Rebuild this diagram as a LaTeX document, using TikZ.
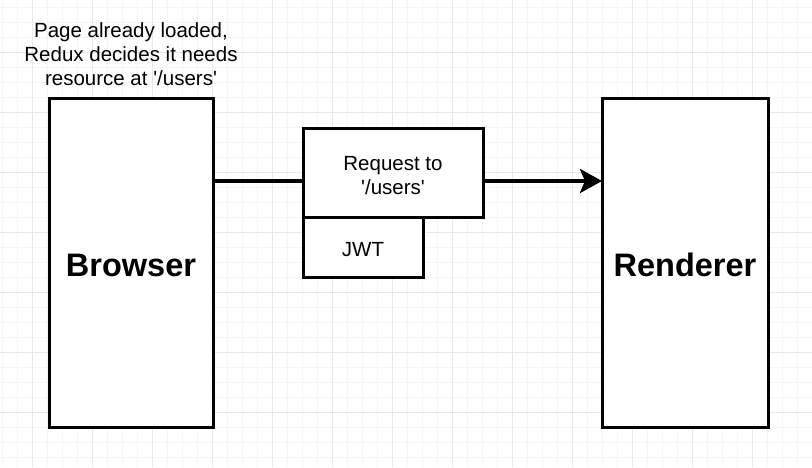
\documentclass[tikz,border=0pt]{standalone}
\usepackage{fontspec}
\setmainfont{Liberation Sans}[Ligatures=TeXOff]
\usetikzlibrary{arrows.meta}
\begin{document}
\begin{tikzpicture}[x=1pt,y=-1pt,
  box/.style={draw=black,line width=3pt,fill=white,inner sep=0pt,outer sep=0pt},
  lbl/.style={font=\fontsize{20.5}{24}\selectfont,align=center,inner sep=0pt},
  big/.style={font=\fontsize{32.5}{38}\selectfont\bfseries,inner sep=0pt},
  conn/.style={line width=4pt,line cap=butt},
  minorgrid/.style={draw=black!4,line width=0.6pt},
  majorgrid/.style={draw=black!9,line width=0.9pt}]
\useasboundingbox (0,0) rectangle (812,467);
\fill[white] (0,0) rectangle (812,467);
% grid
\foreach \xx in {2,17,...,812} \draw[minorgrid] (\xx,0) -- (\xx,467);
\foreach \yy in {7,22,...,467} \draw[minorgrid] (0,\yy) -- (812,\yy);
\foreach \xx in {32,92,...,812} \draw[majorgrid] (\xx,0) -- (\xx,467);
\foreach \yy in {52,112,...,467} \draw[majorgrid] (0,\yy) -- (812,\yy);
% boxes
\node[box,minimum width=164pt,minimum height=329pt] (browser) at (131,262.5) {};
\node[big] (browsertxt) at (131,265) {Browser};
\node[box,minimum width=166pt,minimum height=329pt] (renderer) at (685,262.5) {};
\node[big] (renderertxt) at (685,265) {Renderer};
\node[box,minimum width=180pt,minimum height=89pt] (req) at (393,172.5) {};
\node[lbl] (reqtxt) at (393,176) {Request to\\'/users'};
\node[box,minimum width=120pt,minimum height=60pt] (jwt) at (363,247) {};
\node[lbl] (jwttxt) at (363,250) {JWT};
\node[lbl] (note) at (131,54) {Page already loaded,\\Redux decides it needs\\resource at '/users'};
% connectors
\draw[conn] (browser.east |- 0,181) -- (req.west |- 0,181);
\draw[conn,-{Stealth[length=22pt,width=24pt,inset=5pt]}] (req.east |- 0,181) -- (renderer.west |- 0,181);
\end{tikzpicture}
\end{document}
